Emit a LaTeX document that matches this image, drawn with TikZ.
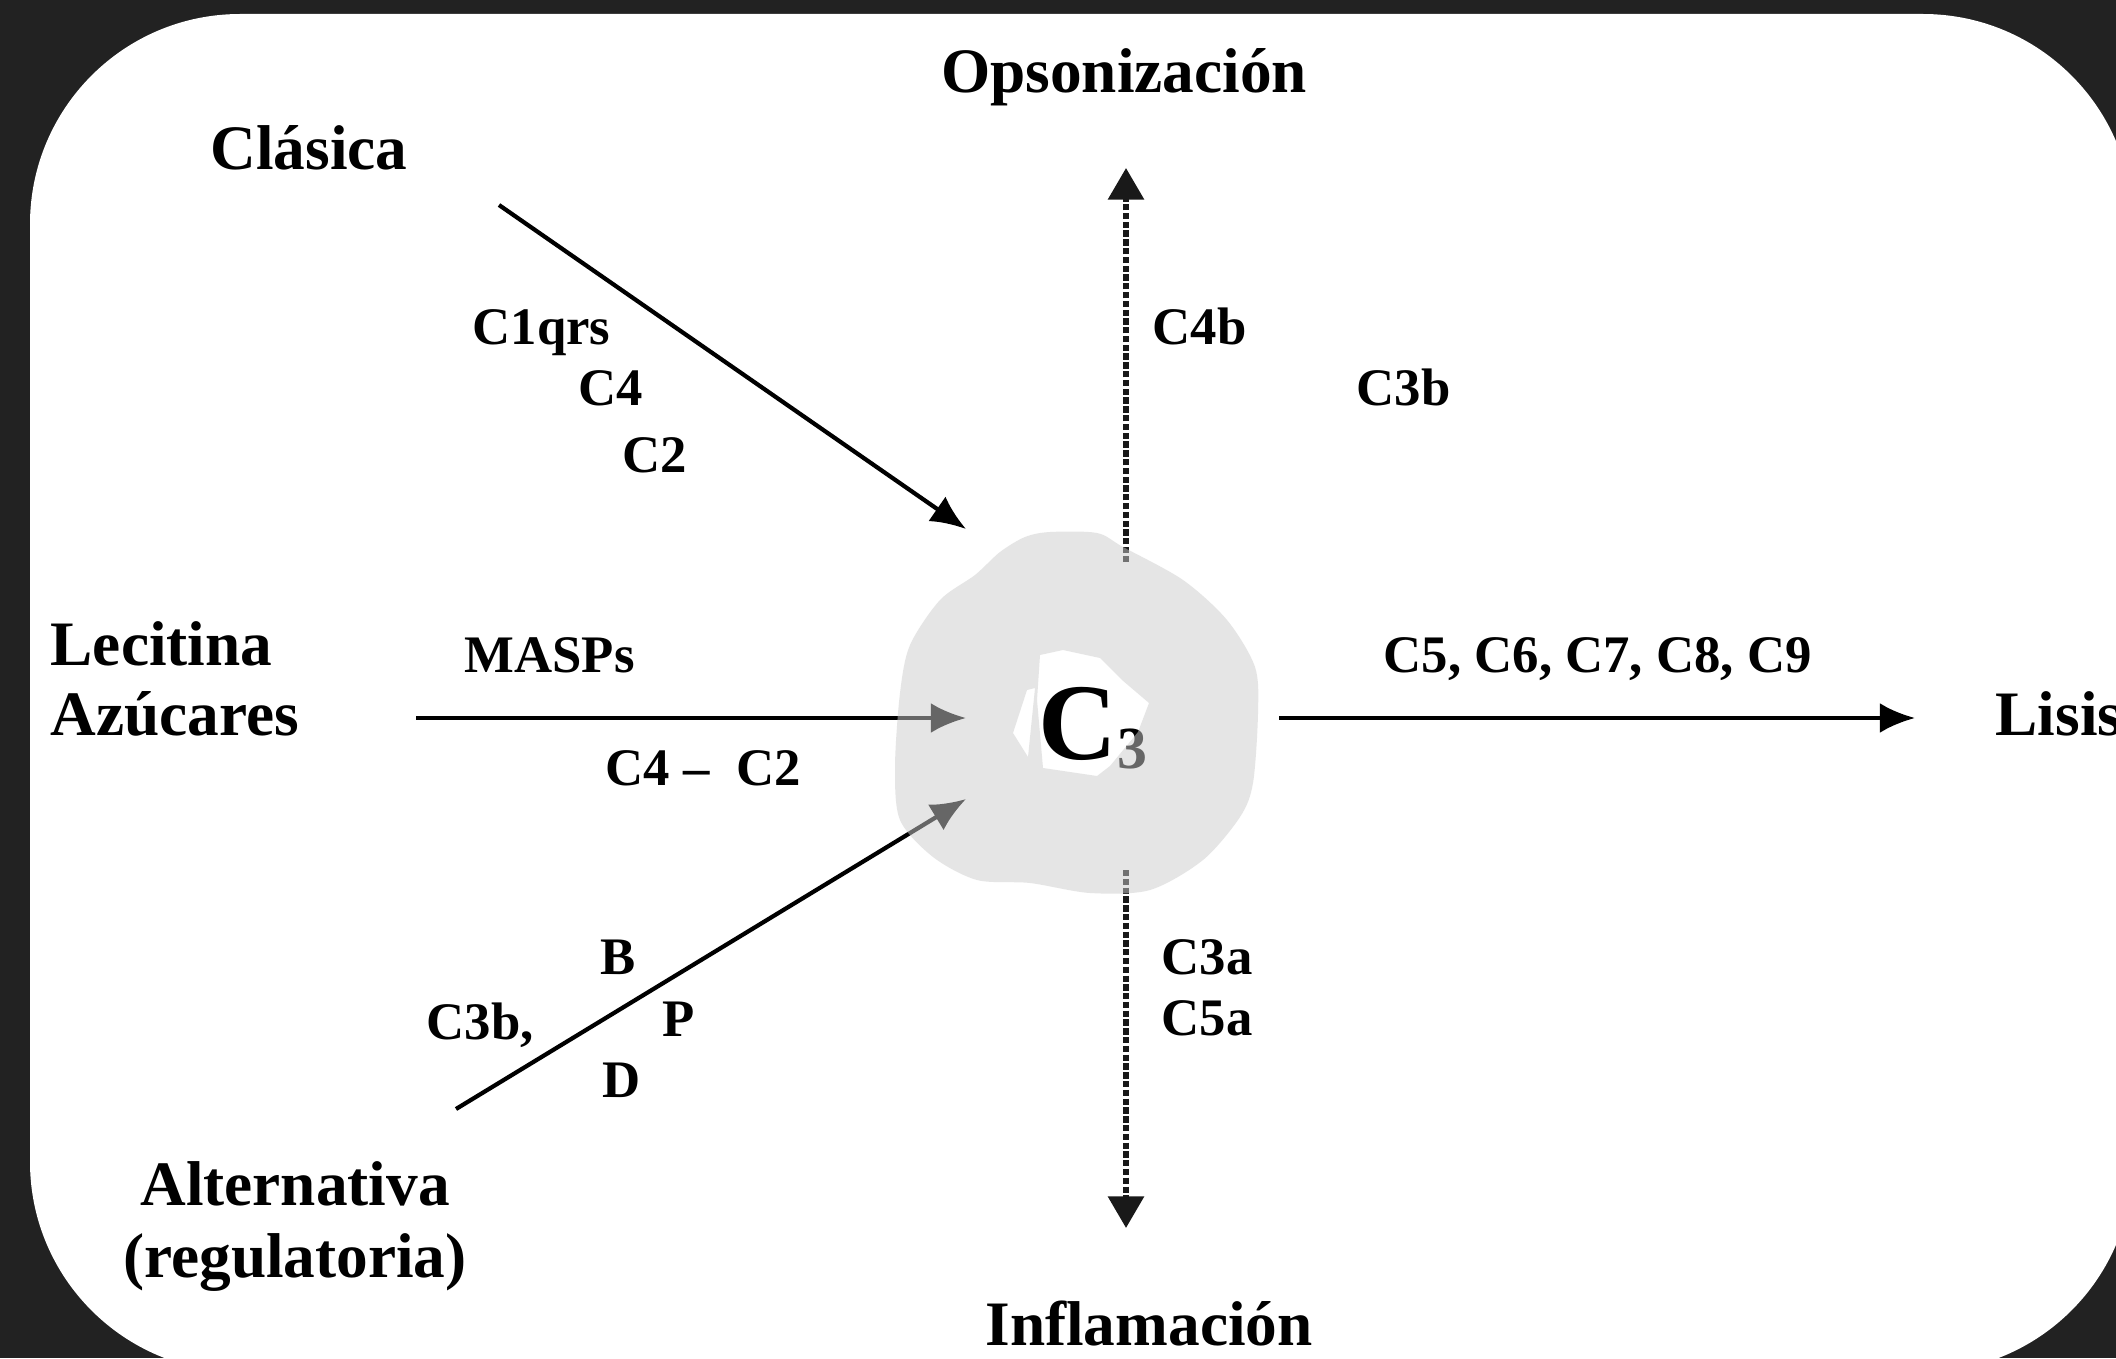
\documentclass[tikz,border=0pt]{standalone}
\usepackage{fontspec}
\setmainfont{Liberation Serif}
\usepackage{xcolor}
\usetikzlibrary{positioning,arrows.meta}
\definecolor{frame}{HTML}{222222}
\definecolor{blob}{HTML}{CCCCCC}

\begin{document}
\begin{tikzpicture}[x=0.01cm,y=-0.01cm,
  big/.style={font=\fontsize{18}{20}\selectfont\bfseries,inner sep=0pt},
  small/.style={font=\fontsize{15}{18}\selectfont\bfseries,inner sep=0pt},
  arr/.style={-{Latex[length=10pt,width=8.5pt]},line width=1.2pt},
  dotarr/.style={-{Triangle[length=9pt,width=10pt]},line width=1.6pt,
  dash pattern=on 1.8pt off 0.7pt,black!90}
]
\useasboundingbox (0,0) rectangle (2116,1358);
\fill[frame] (0,0) rectangle (2116,1358);
\fill[white,rounded corners=2.1cm] (30,14) rectangle (2133,1372);

% pathways
\node[big,anchor=base] (clasica) at (309,170) {Clásica};
\node[big,anchor=base west] (lecitina) at (50,665) {Lecitina};
\node[big,below=20pt of lecitina.base west,anchor=base west] (azucar) {Azúcares};
\node[big,anchor=base] (altern) at (295,1205) {Alternativa};
\node[big,below=20.5pt of altern.base,anchor=base] (regul) {(regulatoria)};

% outcomes
\node[big,anchor=base] (opson) at (1124,93) {Opsonización};
\node[big,anchor=base] (inflam) at (1149,1345) {Inflamación};
\node[big,anchor=base west] (lisis) at (1995,735) {Lisis};

% factors
\node[small,anchor=base west] (c1qrs) at (472,345) {C1qrs};
\node[small,anchor=base west] (c4) at (578,405) {C4};
\node[small,anchor=base west] (c2) at (622,472) {C2};
\node[small,anchor=base west] (masps) at (464,672) {MASPs};
\node[small,anchor=base west] (c4c2) at (605,785) {C4 -- \ C2};
\node[small,anchor=base] (fb) at (618,974) {B};
\node[small,anchor=base] (fp) at (679,1036) {P};
\node[small,anchor=base] (fd) at (622,1097) {D};
\node[small,anchor=base west] (c3bl) at (426,1039) {C3b,};
\node[small,anchor=base west] (c4b) at (1152,345) {C4b};
\node[small,anchor=base west] (c3br) at (1356,405) {C3b};
\node[small,anchor=base west] (c3a) at (1161,974) {C3a};
\node[small,below=17.5pt of c3a.base west,anchor=base west] (c5a) {C5a};
\node[small,anchor=base west] (c5c9) at (1383,672) {C5, C6, C7, C8, C9};

% centre
\node[font=\fontsize{31}{31}\selectfont\bfseries,inner sep=0pt,anchor=base]
  (c3) at (1093,759) {C\raisebox{-2.8pt}{\fontsize{17}{17}\selectfont 3}};

% connector ends
\coordinate (clas-a) at (499,205);  \coordinate (clas-b) at (966,529);
\coordinate (lec-a) at (416,718);   \coordinate (lec-b) at (966,718);
\coordinate (alt-a) at (456,1109);  \coordinate (alt-b) at (966,799);
\coordinate (ops-a) at (1126,562);  \coordinate (ops-b) at (1126,168);
\coordinate (inf-a) at (1126,870);  \coordinate (inf-b) at (1126,1228);
\coordinate (lis-a) at (1279,718);  \coordinate (lis-b) at (1915,718);

\draw[arr] (clas-a) -- (clas-b);
\draw[arr] (lec-a) -- (lec-b);
\draw[arr] (alt-a) -- (alt-b);
\draw[arr] (lis-a) -- (lis-b);
\draw[dotarr] (ops-a) -- (ops-b);
\draw[dotarr] (inf-a) -- (inf-b);

% grey smudge over C3, with the clear patch
\fill[blob,fill opacity=0.5,even odd rule]
  plot[smooth cycle] coordinates {(1050,532) (1097,533) (1123,547) (1183,580)
    (1227,620) (1255,667) (1258,713) (1253,783) (1240,817) (1203,860)
    (1150,890) (1090,893) (1030,883) (977,880) (933,857) (900,820)
    (895,767) (900,693) (910,645) (940,600) (975,575) (1000,552) (1025,537)}
  (1040,655) -- (1063,650) -- (1100,658) -- (1122,680) -- (1149,703)
    -- (1138,732) -- (1110,766) -- (1097,776) -- (1043,768) -- (1037,700) -- cycle
  (1027,690) -- (1035,688) -- (1028,757) -- (1013,733) -- cycle;
\end{tikzpicture}
\end{document}
